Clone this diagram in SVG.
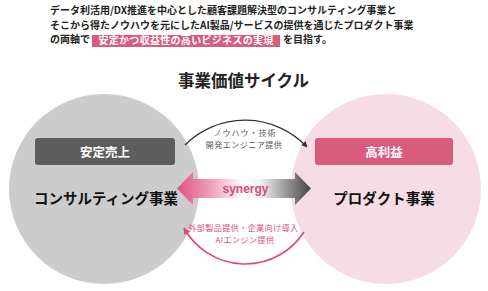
<svg xmlns="http://www.w3.org/2000/svg" width="488" height="291" viewBox="0 0 488 291">
<style>
.jp{font-family:"Noto Sans CJK JP","Noto Sans",sans-serif}
.intro{font-size:10px;font-weight:700;fill:#222}
.big{font-size:14.5px;font-weight:700;fill:#111;text-anchor:middle}
.lbl{font-size:12.5px;font-weight:700;fill:#fff;text-anchor:middle}
.small{font-size:8px;text-anchor:middle}
</style>
<defs>
<linearGradient id="syn" x1="177" y1="0" x2="311" y2="0" gradientUnits="userSpaceOnUse">
<stop offset="0" stop-color="#de5283"/>
<stop offset="0.22" stop-color="#ec95b2"/>
<stop offset="0.5" stop-color="#ffffff"/>
<stop offset="0.62" stop-color="#f2f2f2"/>
<stop offset="1" stop-color="#444444"/>
</linearGradient>
<marker id="ahDark" viewBox="0 0 10 10" refX="9" refY="5" markerWidth="6" markerHeight="6" markerUnits="userSpaceOnUse" orient="auto">
<path d="M0,0 L10,5 L0,10 Z" fill="#333"/>
</marker>
<marker id="ahPink" viewBox="0 0 10 10" refX="9" refY="5" markerWidth="7" markerHeight="7" markerUnits="userSpaceOnUse" orient="auto">
<path d="M0,0 L10,5 L0,10 Z" fill="#e0457a"/>
</marker>
</defs>
<rect width="488" height="291" fill="#fff"/>

<g id="intro" class="jp intro">
<text x="50" y="14">データ利活用/DX推進を中心とした顧客課題解決型のコンサルティング事業と</text>
<text x="50" y="28.5">そこから得たノウハウを元にしたAI製品/サービスの提供を通じたプロダクト事業</text>
<text x="50" y="43">の両軸で</text>
<rect x="92" y="35" width="188" height="12" fill="#d95b7d"/>
<text x="186" y="43.5" text-anchor="middle" fill="#fff" style="letter-spacing:0.3px">安定かつ収益性の高いビジネスの実現</text>
<text x="283" y="43">を目指す。</text>
</g>

<g id="title">
<text class="jp" x="243.5" y="87" text-anchor="middle" font-size="16.5" font-weight="700" fill="#222">事業価値サイクル</text>
</g>

<g id="consulting">
<circle cx="104" cy="189" r="95" fill="#cccccc"/>
<rect x="35" y="138" width="140" height="27" rx="3" fill="#5d5d5d"/>
<text class="jp lbl" x="105" y="156.5">安定売上</text>
<text class="jp big" x="106" y="204">コンサルティング事業</text>
</g>

<g id="product">
<circle cx="386" cy="189" r="95" fill="#f6dce4"/>
<rect x="315" y="138" width="138" height="27" rx="3" fill="#d95b7d"/>
<text class="jp lbl" x="384" y="156.5">高利益</text>
<text class="jp big" x="384" y="204">プロダクト事業</text>
</g>

<g id="connectors">
<path d="M185,145 A85,85 0 0 1 307,147" fill="none" stroke="#333" stroke-width="1.3" marker-end="url(#ahDark)"/>
<path d="M304,232 A70,70 0 0 1 184,228" fill="none" stroke="#e0457a" stroke-width="1.6" marker-end="url(#ahPink)"/>
<path d="M177,188.5 L193,172 L193,179 L295,179 L295,172 L311,188.5 L295,205 L295,198 L193,198 L193,205 Z" fill="url(#syn)"/>
<text x="245.5" y="192.5" text-anchor="middle" font-family="Liberation Sans, Arial, sans-serif" font-size="12" font-weight="700" fill="#d94a78">synergy</text>
<text class="jp small" x="245" y="136" fill="#555" style="letter-spacing:1px">ノウハウ・技術</text>
<text class="jp small" x="244" y="147.5" fill="#555" style="letter-spacing:0.5px">開発エンジニア提供</text>
<text class="jp small" x="243.5" y="231" fill="#dd4a7b" style="letter-spacing:0.5px">外部製品提供・企業向け導入</text>
<text class="jp small" x="245" y="242.5" fill="#dd4a7b" style="letter-spacing:0.5px">AIエンジン提供</text>
</g>
</svg>
